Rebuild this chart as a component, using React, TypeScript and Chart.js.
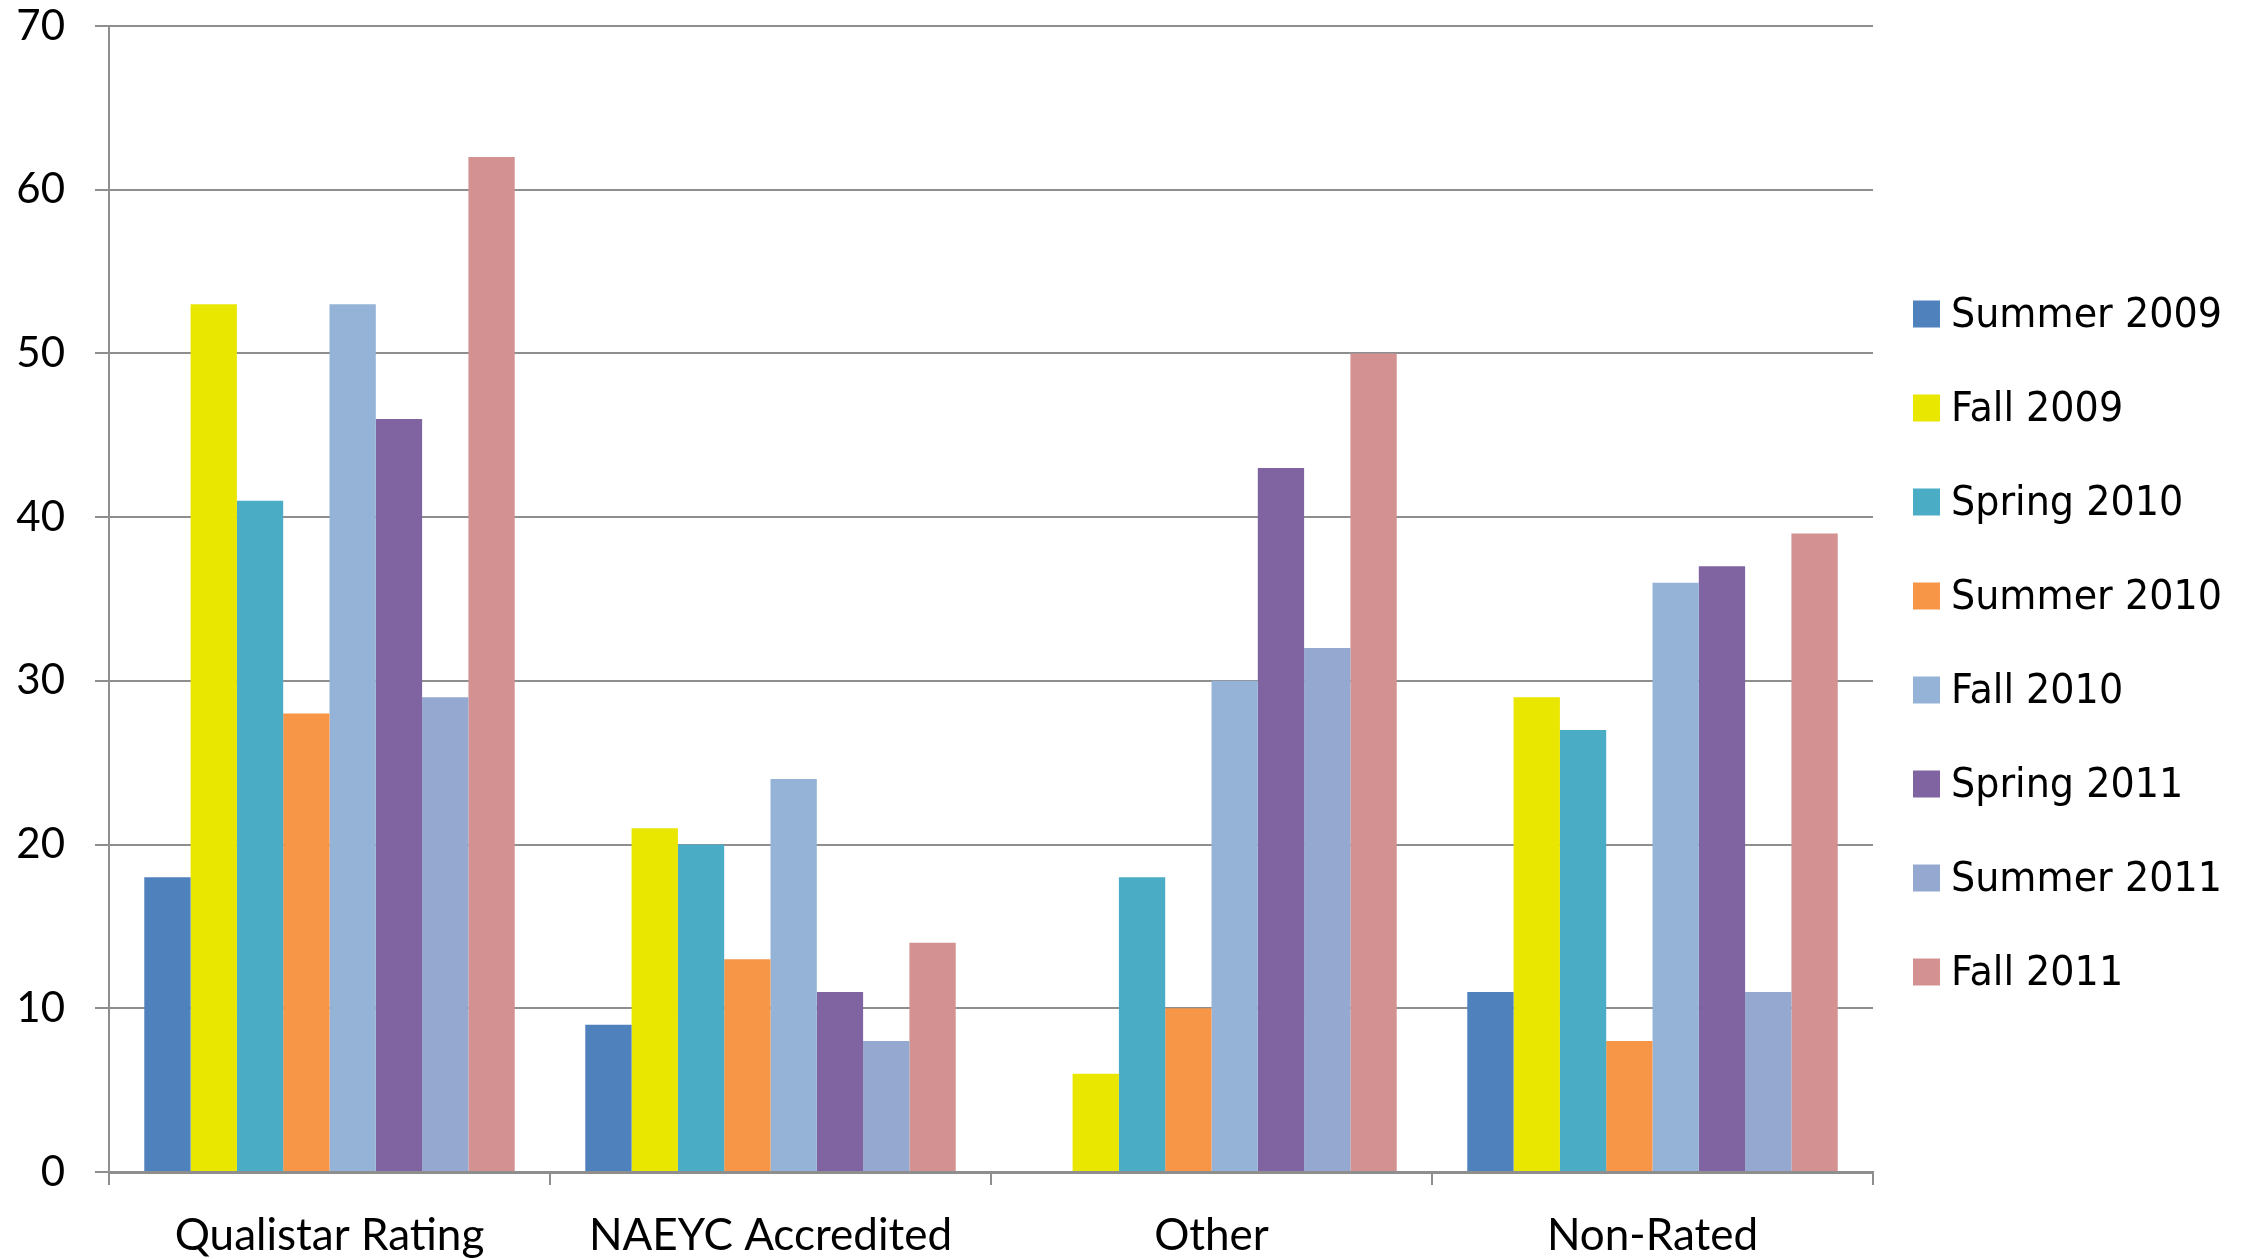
import React, { useEffect, useRef } from "react";
import { Chart, registerables } from "chart.js";

Chart.register(...registerables);

const categories = ["Qualistar Rating", "NAEYC Accredited", "Other", "Non-Rated"];
const seriesNames = [
  "Summer 2009",
  "Fall 2009",
  "Spring 2010",
  "Summer 2010",
  "Fall 2010",
  "Spring 2011",
  "Summer 2011",
  "Fall 2011",
];
const summer2009 = [18, 9, 0, 11];
const fall2009 = [53, 21, 6, 29];
const spring2010 = [41, 20, 18, 27];
const summer2010 = [28, 13, 10, 8];
const fall2010 = [53, 24, 30, 36];
const spring2011 = [46, 11, 43, 37];
const summer2011 = [29, 8, 32, 11];
const fall2011 = [62, 14, 50, 39];
const seriesValues = [summer2009, fall2009, spring2010, summer2010, fall2010, spring2011, summer2011, fall2011];
const seriesColors = ["#4F81BD", "#E9E600", "#4BACC6", "#F79646", "#95B3D7", "#8064A2", "#95A9D0", "#D39192"];
const yMin = 0;
const yMax = 70;
const yStep = 10;

const W = 2258;
const H = 1259;
const GRID = "#8E8E8E";
const TICK_FONT = "Lato, 'Open Sans', sans-serif";
const LEGEND_FONT = "'DejaVu Sans', sans-serif";

const legendPlugin = {
  id: "customLegend",
  afterDraw(chart: any) {
    const ctx = chart.ctx;
    ctx.save();
    chart.data.datasets.forEach((ds: any, i: number) => {
      const yc = 314 + i * 94;
      ctx.fillStyle = ds.backgroundColor;
      ctx.fillRect(1913, yc - 13.5, 27, 27);
      ctx.save();
      ctx.translate(1951, yc + 13);
      ctx.scale(0.93, 1);
      ctx.font = `41px ${LEGEND_FONT}`;
      ctx.textBaseline = "alphabetic";
      ctx.textAlign = "left";
      ctx.fillStyle = "#000000";
      ctx.fillText(ds.label, 0, 0);
      ctx.restore();
    });
    ctx.restore();
  },
};

export default function App() {
  const ref = useRef<HTMLCanvasElement | null>(null);
  useEffect(() => {
    if (!ref.current) return;
    const chart = new Chart(ref.current, {
      type: "bar",
      data: {
        labels: categories,
        datasets: seriesNames.map((name, i) => ({
          label: name,
          data: seriesValues[i],
          backgroundColor: seriesColors[i],
          borderWidth: 0,
          categoryPercentage: 0.84,
          barPercentage: 1.0,
        })),
      },
      options: {
        animation: false,
        responsive: false,
        devicePixelRatio: 1,
        layout: { padding: { left: 0, right: W - 1873, top: 26, bottom: 0 } },
        plugins: {
          legend: { display: false },
          tooltip: { enabled: false },
          title: { display: false },
        },
        scales: {
          x: {
            grid: {
              display: true,
              drawOnChartArea: false,
              drawTicks: true,
              tickLength: 13,
              color: GRID,
              lineWidth: 2,
              offset: true,
            },
            border: { display: true, color: GRID, width: 3 },
            ticks: {
              color: "#000000",
              font: { family: TICK_FONT, size: 44 },
              padding: 24,
              maxRotation: 0,
              autoSkip: false,
            },
            afterFit(scale: any) {
              scale.height = 87;
              scale.paddingLeft = 0;
              scale.paddingRight = 0;
            },
          },
          y: {
            min: yMin,
            max: yMax,
            grid: {
              color: GRID,
              lineWidth: 2,
              drawTicks: true,
              tickLength: 14,
            },
            border: { display: true, color: GRID, width: 2 },
            ticks: {
              stepSize: yStep,
              color: "#000000",
              font: { family: TICK_FONT, size: 42 },
              padding: 30,
            },
            afterFit(scale: any) {
              scale.width = 109;
              scale.paddingTop = 0;
              scale.paddingBottom = 0;
            },
          },
        },
      },
      plugins: [legendPlugin],
    });
    return () => chart.destroy();
  }, []);
  return (
    <div style={{ position: "fixed", left: 0, top: 0, width: W, height: H, background: "#ffffff" }}>
      <canvas ref={ref} width={W} height={H} style={{ width: W, height: H, display: "block" }} />
    </div>
  );
}
